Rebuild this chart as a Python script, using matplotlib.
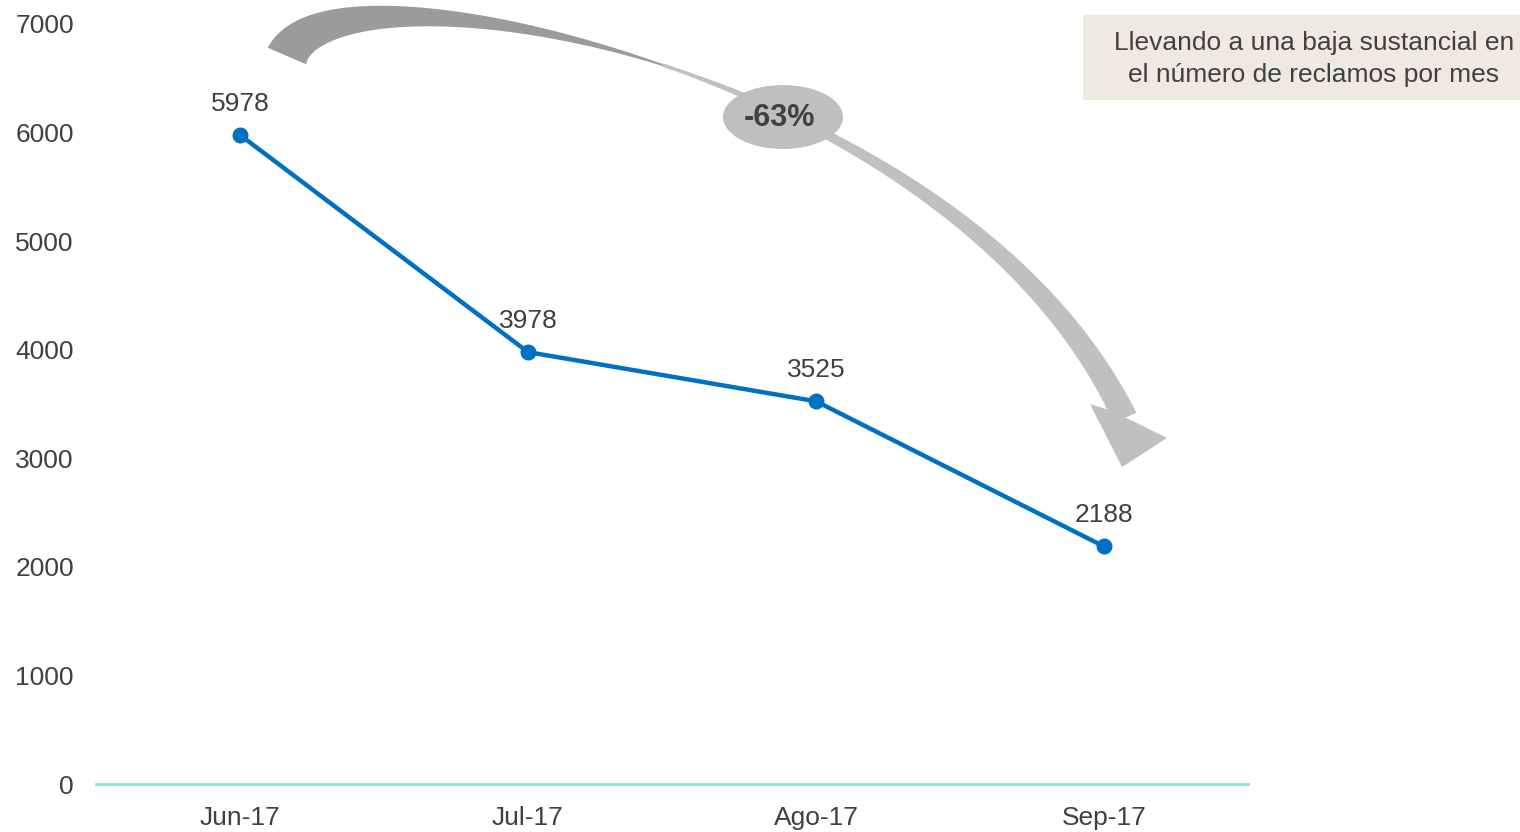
import numpy as np
import matplotlib
matplotlib.use("Agg")
import matplotlib.pyplot as plt
from matplotlib.patches import Polygon, Ellipse, Rectangle

plt.rcParams['font.family'] = ['Liberation Sans', 'DejaVu Sans']

months = ["Jun-17", "Jul-17", "Ago-17", "Sep-17"]
reclamos = [5978, 3978, 3525, 2188]
y_ticks = [0, 1000, 2000, 3000, 4000, 5000, 6000, 7000]
cambio = "-63%"
nota = "Llevando a una baja sustancial en\nel número de reclamos por mes"

W, H = 1520, 832
fig = plt.figure(figsize=(W / 100, H / 100), dpi=100)
ax = fig.add_axes([96 / W, 48 / H, (1248 - 96) / W, (784 - 24) / H])

x = np.arange(len(months))
ax.plot(x, reclamos, color="#0070C0", lw=3.2, marker="o", ms=10.5, zorder=3)
for xi, v in zip(x, reclamos):
    ax.annotate(str(v), (xi, v), xytext=(0, 14), textcoords="offset points",
                ha="center", va="bottom", fontsize=19, color="#404040")

ax.set_xlim(-0.5, len(months) - 0.5)
ax.set_ylim(0, 7000)
ax.set_xticks(x)
ax.set_xticklabels(months)
ax.set_yticks(y_ticks)
ax.tick_params(length=0, labelsize=19, labelcolor="#404040")
ax.tick_params(axis="x", pad=16)
ax.tick_params(axis="y", pad=16)
for s in ["top", "right", "left"]:
    ax.spines[s].set_visible(False)
ax.spines["bottom"].set_color("#8EE5CC")
ax.spines["bottom"].set_linewidth(2)

# overlay in figure pixels for the decorative arrow and note
ov = fig.add_axes([0, 0, 1, 1])
ov.set_xlim(0, W)
ov.set_ylim(H, 0)
ov.axis("off")
ov.patch.set_visible(False)

P = np.array([[287, 56], [335, -55], [960, 70], [1125, 418]], float)


def bez(t):
    t = t[:, None]
    return ((1 - t) ** 3 * P[0] + 3 * (1 - t) ** 2 * t * P[1]
            + 3 * (1 - t) * t ** 2 * P[2] + t ** 3 * P[3])


def dbez(t):
    t = t[:, None]
    return (3 * (1 - t) ** 2 * (P[1] - P[0]) + 6 * (1 - t) * t * (P[2] - P[1])
            + 3 * t ** 2 * (P[3] - P[2]))


def width(t):
    return np.where(t < 0.5, 40 * np.clip(1 - t / 0.5, 0, 1) ** 1.2 + 2,
                    3 + 22 * ((t - 0.5) / 0.5) ** 1.1)


def ribbon(t0, t1, color):
    t = np.linspace(t0, t1, 150)
    c = bez(t)
    d = dbez(t)
    n = np.stack([-d[:, 1], d[:, 0]], axis=1)
    n /= np.linalg.norm(n, axis=1)[:, None]
    w = width(t)[:, None] / 2
    pts = np.vstack([c + n * w, (c - n * w)[::-1]])
    ov.add_patch(Polygon(pts, closed=True, fc=color, ec="none", zorder=1))


ribbon(0.0, 0.51, "#9B9B9B")
ribbon(0.5, 1.0, "#C0C0C0")
E = P[3]
head = np.array([E + [-16, -8], E + [-35, -14], E + [-3, 49], E + [42, 20], E + [12, 5]])
ov.add_patch(Polygon(head, closed=True, fc="#C0C0C0", ec="none", zorder=1))

ov.add_patch(Ellipse((783, 117), 120, 64, fc="#BFBFBF", ec="none", zorder=2))
ov.text(779, 118, cambio, ha="center", va="center", fontsize=22,
        fontweight="bold", color="#404040", zorder=3)

ov.add_patch(Rectangle((1083, 15), W - 1083, 85, fc="#ECEAE1", ec="none", zorder=1))
ov.text(1314, 59, nota, ha="center", va="center", fontsize=19,
        color="#404040", linespacing=1.45, zorder=2)

fig.savefig("out.png", dpi=100)
